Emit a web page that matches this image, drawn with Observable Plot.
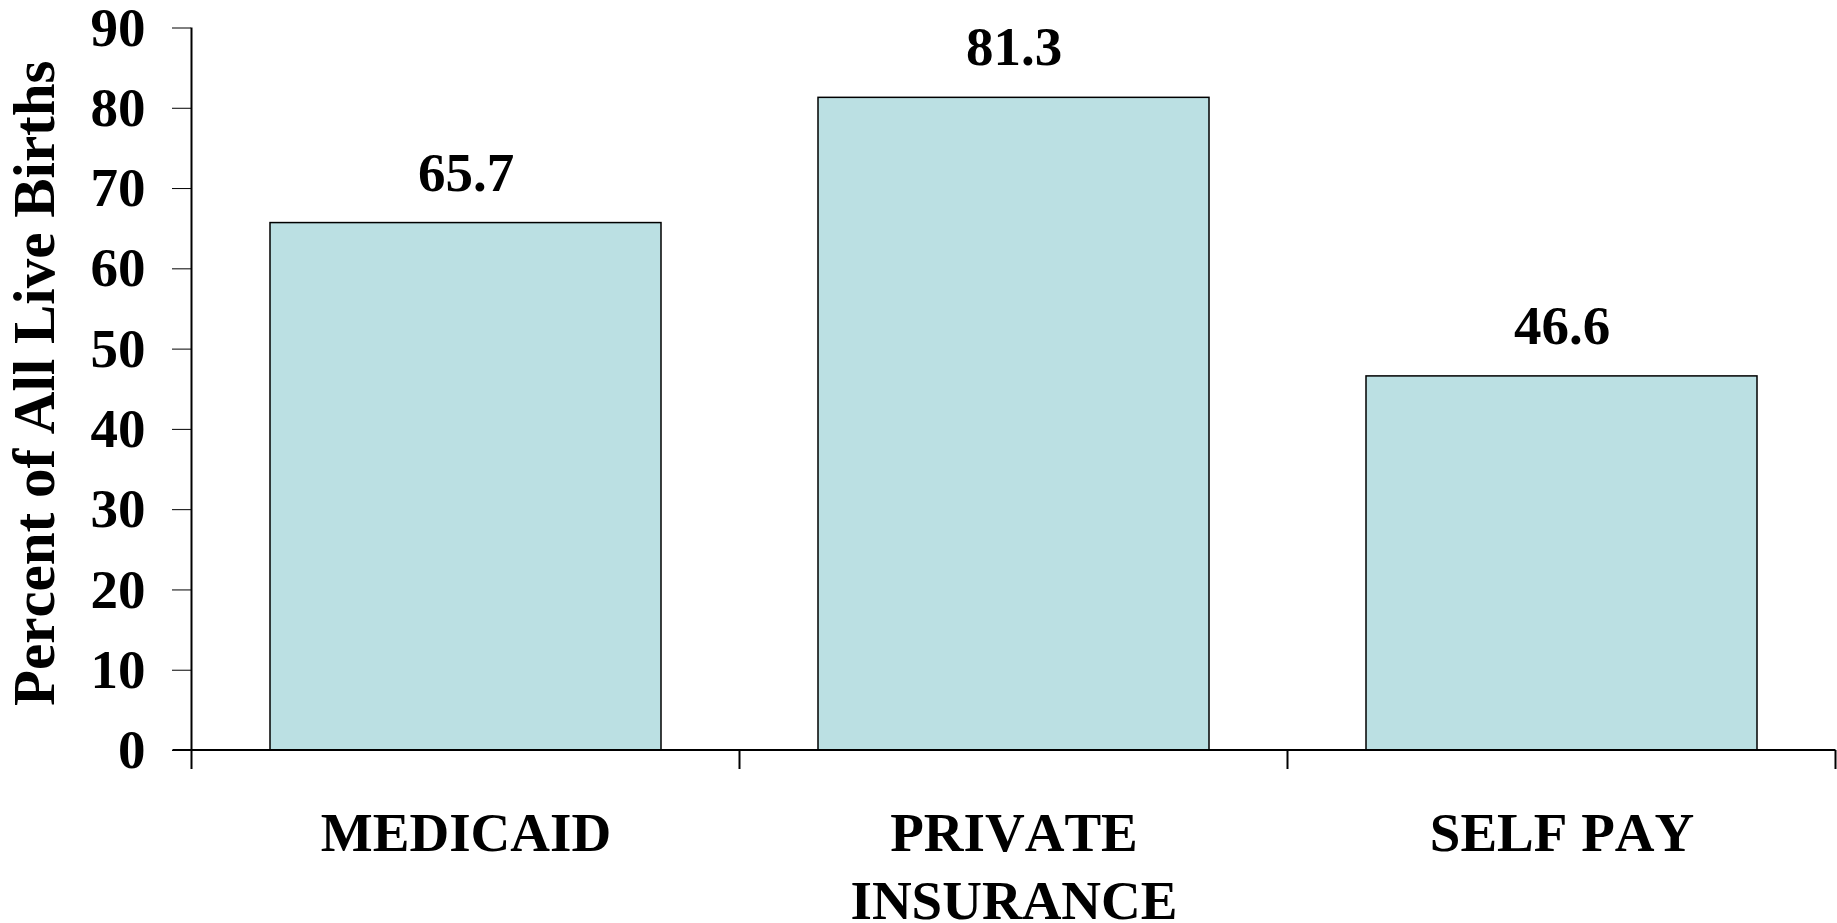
<!DOCTYPE html>
<html>
<head>
<meta charset="utf-8">
<script src="https://cdn.jsdelivr.net/npm/d3@7"></script>
<script src="https://cdn.jsdelivr.net/npm/@observablehq/plot@0.6"></script>
<style>
  html, body { margin: 0; padding: 0; background: white; }
  svg text { font-kerning: none; font-feature-settings: "kern" 0; }
</style>
</head>
<body>
<div id="chart"></div>
<script>
const categories = ["MEDICAID", "PRIVATE\nINSURANCE", "SELF PAY"];
const values = [65.7, 81.3, 46.6];
const valueLabels = ["65.7", "81.3", "46.6"];
const yTicks = [0, 10, 20, 30, 40, 50, 60, 70, 80, 90];
const yLabel = "Percent of All Live Births";

const data = categories.map((c, i) => ({cat: c, value: values[i], label: valueLabels[i]}));

const FONT = '"Liberation Serif", "Times New Roman", serif';

const plot = Plot.plot({
  width: 1837,
  height: 923,
  marginLeft: 191,
  marginRight: 2,
  marginTop: 27.5,
  marginBottom: 173,
  style: {background: "white", fontFamily: FONT, fontWeight: "bold", fontSize: "55px", color: "black"},
  x: {domain: categories, paddingInner: 0.2865, paddingOuter: 0.143, axis: null},
  y: {domain: [0, 90], ticks: yTicks, tickSize: 19, tickPadding: 27, label: null, tickFormat: d => String(d)},
  marks: [
    Plot.barY(data, {x: "cat", y: "value", fill: "#BBE0E3", stroke: "black", strokeWidth: 1.5}),
    Plot.text(data, {x: "cat", y: "value", text: "label", lineAnchor: "bottom", dy: -32.5, fontSize: 55, fill: "black"}),
    Plot.text(data, {x: "cat", frameAnchor: "bottom", text: "cat", lineAnchor: "top", dy: 52, lineHeight: 1.24, fontSize: 55, fill: "black"}),
    Plot.text([yLabel], {frameAnchor: "left", text: d => d, rotate: -90, textAnchor: "middle", lineAnchor: "bottom", dx: -138, dy: -6, fontSize: 59, fill: "black"})
  ]
});

document.getElementById("chart").appendChild(plot);

// axis lines and category boundary ticks, positioned from the plot's own scales
const svg = d3.select(plot.tagName.toLowerCase() === "svg" ? plot : plot.querySelector("svg"));
const xs = plot.scale("x"), ys = plot.scale("y");
const n = categories.length;
const step = xs.step != null ? xs.step : (xs.range[1] - xs.range[0]) / n;
const bw = xs.bandwidth != null ? xs.bandwidth : step * (1 - 0.2865);
const firstEdge = xs.apply(categories[0]) - (step - bw) / 2;
const y0 = ys.apply(0), yTop = ys.apply(90);
const tick = 19;
const g = svg.append("g").attr("stroke", "black").attr("stroke-width", 2);
g.append("line").attr("x1", firstEdge).attr("x2", firstEdge).attr("y1", yTop).attr("y2", y0 + tick);
g.append("line").attr("x1", firstEdge - tick).attr("x2", firstEdge + n * step).attr("y1", y0).attr("y2", y0);
for (let i = 1; i <= n; i++) {
  const xb = firstEdge + i * step;
  g.append("line").attr("x1", xb).attr("x2", xb).attr("y1", y0).attr("y2", y0 + tick);
}
</script>
</body>
</html>
